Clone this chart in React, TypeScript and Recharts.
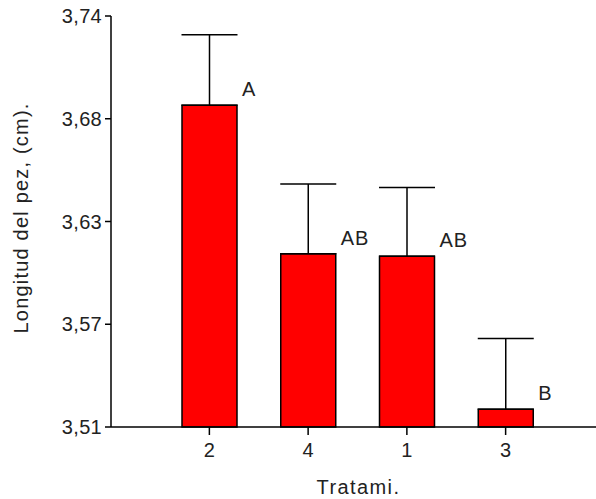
import React from 'react';
import { BarChart, Bar, XAxis, YAxis, ErrorBar, LabelList } from 'recharts';

const categories = ['2', '4', '1', '3'];
const means = [3.690, 3.607, 3.6055, 3.520];
const errors = [0.0395, 0.039, 0.0385, 0.0395];
const groups = ['A', 'AB', 'AB', 'B'];
const yTicks = [3.51, 3.5675, 3.625, 3.6825, 3.74];
const yTickLabels = ['3,51', '3,57', '3,63', '3,68', '3,74'];

const data = categories.map((c, i) => ({
  name: c,
  value: means[i],
  err: [0, errors[i]],
  group: groups[i],
}));

const FONT = '"Liberation Sans", Arial, sans-serif';
const TEXT = '#222';

const GroupLabel = (props: any) => {
  const { x, y, width, value } = props;
  return (
    <text x={x + width + 5} y={y - 9} fontFamily={FONT} fontSize={20} letterSpacing={1} fill={TEXT} textAnchor="start">
      {value}
    </text>
  );
};

const YTitle = (props: any) => {
  const vb = props.viewBox;
  const cx = vb.x + 28;
  const cy = 218;
  return (
    <text x={cx} y={cy} transform={`rotate(-90, ${cx}, ${cy})`} textAnchor="middle" fontFamily={FONT} fontSize={20} letterSpacing={1.2} fill={TEXT}>
      Longitud del pez, (cm).
    </text>
  );
};

const XTitle = (props: any) => {
  const vb = props.viewBox;
  return (
    <text x={vb.x + vb.width / 2 + 5} y={494} textAnchor="middle" fontFamily={FONT} fontSize={20} letterSpacing={1.4} fill={TEXT}>
      Tratami.
    </text>
  );
};

export default function App() {
  return (
    <div style={{ position: 'absolute', left: 0, top: 0, background: '#fff' }}>
      <BarChart
        width={596}
        height={499}
        data={data}
        margin={{ top: 16, right: 0, left: 0, bottom: 0 }}
        barCategoryGap={0}
      >
        <XAxis
          dataKey="name"
          height={72}
          padding={{ left: 49, right: 41 }}
          axisLine={{ stroke: '#000', strokeWidth: 1.5 }}
          tickLine={{ stroke: '#000', strokeWidth: 1.5 }}
          tickSize={8}
          tickMargin={8}
          tick={{ fill: TEXT, fontFamily: FONT, fontSize: 20 }}
          label={<XTitle />}
        />
        <YAxis
          type="number"
          domain={[3.51, 3.74]}
          ticks={yTicks}
          interval={0}
          width={111}
          tickFormatter={(v: number) => {
            const i = yTicks.findIndex((t) => Math.abs(t - v) < 1e-6);
            return i >= 0 ? yTickLabels[i] : String(v);
          }}
          axisLine={{ stroke: '#000', strokeWidth: 1.5 }}
          tickLine={{ stroke: '#000', strokeWidth: 1.5 }}
          tickSize={6}
          tickMargin={3}
          tick={{ fill: TEXT, fontFamily: FONT, fontSize: 20, letterSpacing: 0.3 }}
          label={<YTitle />}
        />
        <Bar dataKey="value" fill="#ff0000" stroke="#000" strokeWidth={1.5} barSize={55} isAnimationActive={false}>
          <ErrorBar dataKey="err" width={28} stroke="#000" strokeWidth={1.5} direction="y" />
          <LabelList dataKey="group" content={<GroupLabel />} />
        </Bar>
      </BarChart>
    </div>
  );
}
